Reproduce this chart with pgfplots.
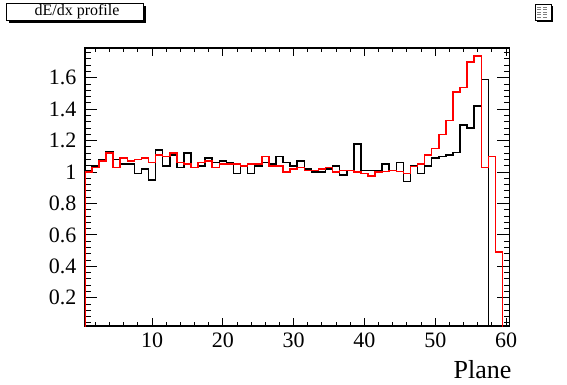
\documentclass[border=0pt]{standalone}
\usepackage{pgfplots}
\pgfplotsset{compat=1.18}
\usepackage{pgfplotstable}
\usepackage{fontspec}
\setmainfont{Liberation Serif}

% x = left bin edge; bins are 1 wide, centred on 1..60
\pgfplotstableread{
x     black  red
0.5   0      0
0.5   1.01   1.00
1.5   1.04   1.03
2.5   1.08   1.07
3.5   1.13   1.12
4.5   1.08   1.03
5.5   1.05   1.09
6.5   1.05   1.07
7.5   0.99   1.08
8.5   1.02   1.09
9.5   0.95   1.06
10.5  1.14   1.11
11.5  1.04   1.10
12.5  1.11   1.12
13.5  1.03   1.06
14.5  1.12   1.05
15.5  1.03   1.03
16.5  1.04   1.06
17.5  1.09   1.07
18.5  1.06   1.03
19.5  1.07   1.05
20.5  1.06   1.05
21.5  0.99   1.05
22.5  1.04   1.04
23.5  0.99   1.05
24.5  1.04   1.05
25.5  1.06   1.10
26.5  1.05   1.04
27.5  1.10   1.04
28.5  1.06   1.00
29.5  1.04   1.02
30.5  1.07   1.03
31.5  1.02   1.01
32.5  1.00   1.01
33.5  1.00   1.02
34.5  1.02   1.03
35.5  1.04   1.00
36.5  0.98   1.01
37.5  1.01   1.01
38.5  1.18   1.00
39.5  1.01   0.99
40.5  1.01   0.975
41.5  1.01   1.00
42.5  1.05   1.005
43.5  1.01   1.01
44.5  1.06   1.005
45.5  0.94   0.99
46.5  1.04   1.035
47.5  0.99   1.05
48.5  1.04   1.11
49.5  1.09   1.15
50.5  1.10   1.24
51.5  1.11   1.33
52.5  1.125  1.51
53.5  1.30   1.54
54.5  1.28   1.70
55.5  1.42   1.74
56.5  1.59   1.03
57.5  0      1.10
58.5  0      0.49
59.5  0      0
60.5  0      0
}\data

\begin{document}
\begin{tikzpicture}[x=1pt,y=1pt]
\useasboundingbox (0,0) rectangle (567,384);
\begin{axis}[
  at={(84.8pt,58pt)}, anchor=south west,
  scale only axis, width=424.8pt, height=278pt,
  xmin=0.5, xmax=60.5, ymin=0.02, ymax=1.79,
  xtick={10,20,30,40,50,60},
  minor xtick={2,4,6,8,12,14,16,18,22,24,26,28,32,34,36,38,42,44,46,48,52,54,56,58,60},
  ytick={0.2,0.4,0.6,0.8,1,1.2,1.4,1.6},
  minor ytick={0.04,0.08,...,1.77},
  tick pos=both, tick align=inside,
  axis line style={line width=1.6pt},
  every tick/.style={black, line width=1pt},
  x tick style={/pgfplots/major tick length=8pt,/pgfplots/minor tick length=4pt},
  y tick style={/pgfplots/major tick length=12.5pt,/pgfplots/minor tick length=6pt},
  /pgf/number format/assume math mode=true,
  ticklabel style={font=\fontsize{22}{22}\selectfont},
  yticklabel style={xshift=-5pt},
  xticklabel style={yshift=-3pt},
  xlabel={Plane},
  xlabel style={at={(axis description cs:1,0)}, anchor=base east, yshift=-52pt, xshift=2pt, inner sep=0pt, font=\fontsize{26}{26}\selectfont},
]
\addplot[const plot, black, line width=1.5pt] table[x=x, y=black] {\data};
\addplot[const plot, red, line width=1.5pt] table[x=x, y=red] {\data};
\end{axis}
% title pave with shadow
\fill[black] (9,361) rectangle (146,378);
\draw[fill=white, line width=0.8pt] (6,364) rectangle (143,381);
\node[inner sep=0pt, font=\fontsize{16}{16}\selectfont] at (77,372.5) {dE/dx profile};
% tiny stats pave
\fill[black] (537,362) rectangle (553,378);
\draw[fill=white, line width=0.6pt] (535,364) rectangle (551,380);
\foreach \yy in {377,374.5,372,369.5,367}{
  \draw[line width=0.5pt, gray] (537,\yy) -- (541,\yy);
  \draw[line width=0.5pt, gray] (543,\yy) -- (547,\yy);
}
\end{tikzpicture}
\end{document}
